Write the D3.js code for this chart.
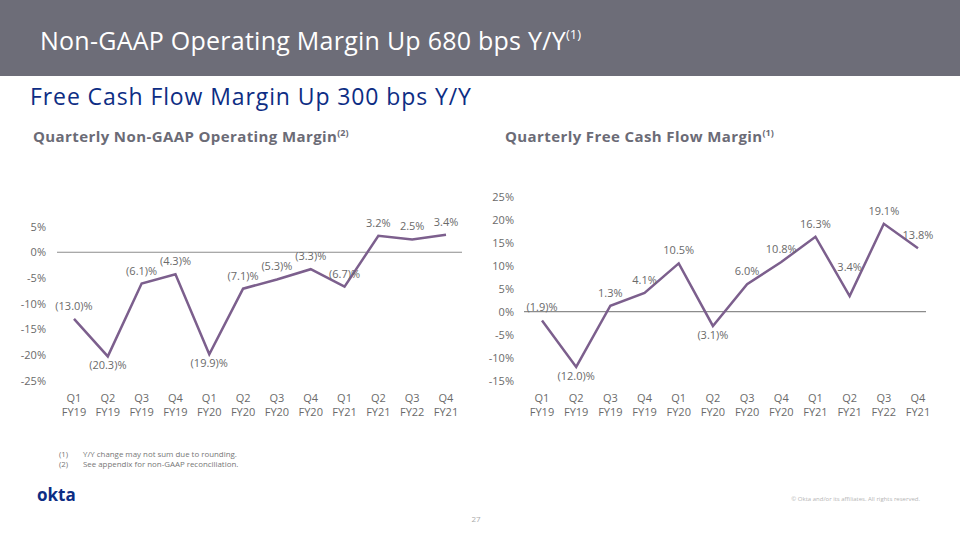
<!DOCTYPE html>
<html><head><meta charset="utf-8">
<script src="https://cdn.jsdelivr.net/npm/d3@7"></script>
<style>
html,body{margin:0;padding:0;background:#fff;}
svg{display:block;font-family:"Open Sans",sans-serif;}
</style></head>
<body>
<svg id="c" width="960" height="540"></svg>
<script>
const quarters = ["Q1","Q2","Q3","Q4","Q1","Q2","Q3","Q4","Q1","Q2","Q3","Q4"];
const fiscalYears = ["FY19","FY19","FY19","FY19","FY20","FY20","FY20","FY20","FY21","FY21","FY22","FY21"];
const opMargin = [-13.0,-20.3,-6.1,-4.3,-19.9,-7.1,-5.3,-3.3,-6.7,3.2,2.5,3.4];
const fcfMargin = [-1.9,-12.0,1.3,4.1,10.5,-3.1,6.0,10.8,16.3,3.4,19.1,13.8];
const opTicks = [5,0,-5,-10,-15,-20,-25];
const fcfTicks = [25,20,15,10,5,0,-5,-10,-15];

const svg = d3.select("#c");
const gray = "#6b6b76", txt = "#6a6a6a", purple = "#7c5f8d";

// header
svg.append("rect").attr("x",0).attr("y",0).attr("width",960).attr("height",76).attr("fill","#6d6d78");
const h = svg.append("text").attr("x",40).attr("y",50).attr("fill","#fff").attr("font-size",25)
  .attr("letter-spacing",0.25);
h.append("tspan").text("Non-GAAP Operating Margin Up 680 bps Y/Y");
h.append("tspan").attr("font-size",13).attr("dy",-11).attr("letter-spacing",0).text("(1)");
svg.append("text").attr("x",30).attr("y",105).attr("fill","#0d2d84").attr("font-size",23)
  .attr("letter-spacing",0.9).text("Free Cash Flow Margin Up 300 bps Y/Y");

function fmtLabel(v){ return v < 0 ? "(" + Math.abs(v).toFixed(1) + ")%" : v.toFixed(1) + "%"; }

function chart(opts){
  const {values, ticks, xr, yDomain, yRange, zeroX, tickX, title, titleX, sup, below, lift} = opts;
  const g = svg.append("g");
  const x = d3.scalePoint().domain(d3.range(values.length)).range(xr);
  const y = d3.scaleLinear().domain(yDomain).range(yRange);
  // title
  const t = g.append("text").attr("x",titleX).attr("y",142).attr("fill",gray)
    .attr("font-size",15).attr("font-weight","bold").attr("letter-spacing",0.4);
  t.append("tspan").text(title);
  t.append("tspan").attr("font-size",9).attr("dy",-6).attr("letter-spacing",0).text(sup);
  // y axis
  const ax = g.append("g").attr("transform",`translate(${tickX},0)`)
    .call(d3.axisLeft(y).tickValues(ticks).tickSize(0).tickPadding(0).tickFormat(d => d + "%"));
  ax.select(".domain").remove();
  ax.selectAll("text").attr("fill",txt).attr("font-size",11).attr("font-family","'Open Sans',sans-serif");
  // zero line
  g.append("line").attr("x1",zeroX[0]).attr("x2",zeroX[1]).attr("y1",y(0)).attr("y2",y(0))
    .attr("stroke","#8c8c8c").attr("stroke-width",1.2);
  // x labels
  const xl = g.selectAll(".xl").data(values).join("text")
    .attr("text-anchor","middle").attr("fill",txt).attr("font-size",11);
  xl.append("tspan").attr("x",(d,i)=>x(i)).attr("y",402).text((d,i)=>quarters[i]);
  xl.append("tspan").attr("x",(d,i)=>x(i)).attr("y",416).text((d,i)=>fiscalYears[i]);
  // line
  g.append("path").datum(values)
    .attr("d", d3.line().x((d,i)=>x(i)).y(d=>y(d)))
    .attr("fill","none").attr("stroke",purple).attr("stroke-width",2.5).attr("stroke-linejoin","miter");
  // data labels
  g.selectAll(".dl").data(values).join("text")
    .attr("text-anchor","middle").attr("fill",txt).attr("font-size",11)
    .attr("x",(d,i)=>x(i))
    .attr("y",(d,i)=> below.has(i) ? y(d)+13 : y(d)-9-(lift.has(i)?16:0))
    .text(d=>fmtLabel(d));
}

chart({values:opMargin, ticks:opTicks, xr:[74,446], yDomain:[-25,5], yRange:[380.5,226.6],
  zeroX:[57,462], tickX:46, title:"Quarterly Non-GAAP Operating Margin", titleX:33, sup:"(2)",
  below:new Set([1,4]), lift:new Set()});
chart({values:fcfMargin, ticks:fcfTicks, xr:[542,918], yDomain:[-15,25], yRange:[380.7,196.7],
  zeroX:[524,926], tickX:514, title:"Quarterly Free Cash Flow Margin", titleX:505, sup:"(1)",
  below:new Set([1,5]), lift:new Set([9])});

// footnotes
const fn = [["(1)","Y/Y change may not sum due to rounding."],["(2)","See appendix for non-GAAP reconciliation."]];
fn.forEach((f,i)=>{
  svg.append("text").attr("x",59).attr("y",457+i*9.5).attr("fill","#777").attr("font-size",7.9).text(f[0]);
  svg.append("text").attr("x",83).attr("y",457+i*9.5).attr("fill","#777").attr("font-size",7.9).text(f[1]);
});
svg.append("text").attr("x",37).attr("y",501).attr("fill","#0d2d84").attr("font-size",17)
  .attr("font-weight","bold").text("okta");
svg.append("text").attr("x",920).attr("y",501).attr("text-anchor","end").attr("fill","#b5b5b5")
  .attr("font-size",6).text("© Okta and/or its affiliates. All rights reserved.");
svg.append("text").attr("x",476).attr("y",522).attr("text-anchor","middle").attr("fill","#aaa")
  .attr("font-size",8).text("27");
</script>
</body></html>
